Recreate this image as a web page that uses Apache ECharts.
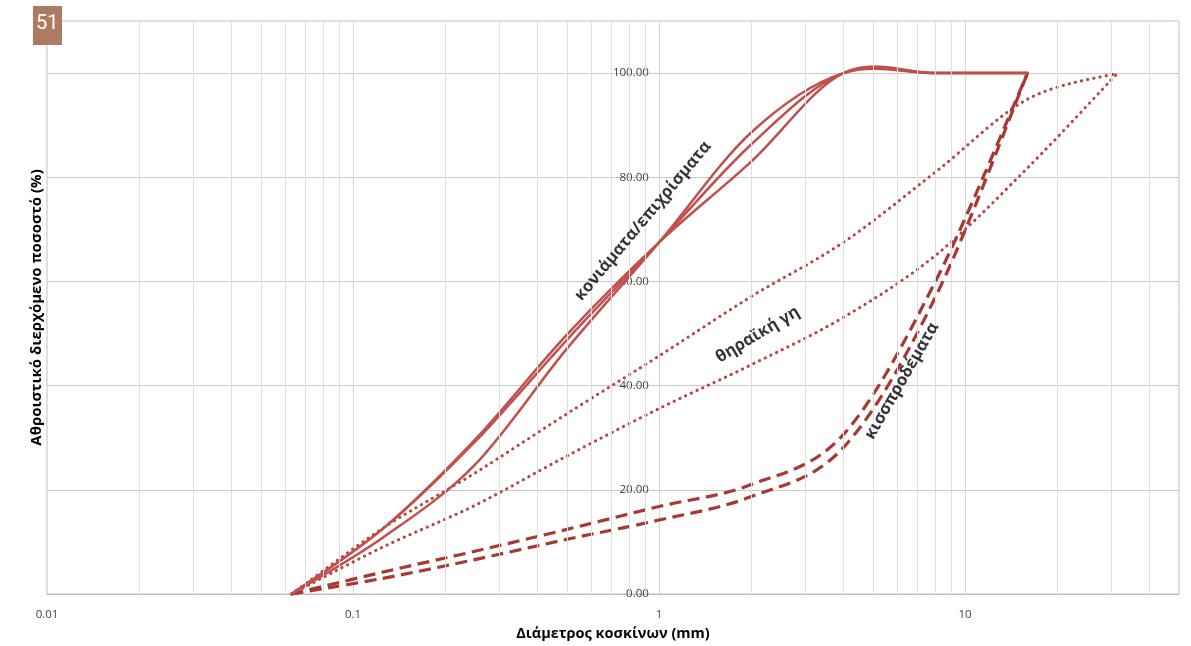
<!DOCTYPE html>
<html>
<head>
<meta charset="utf-8">
<script src="https://cdn.jsdelivr.net/npm/echarts@6/dist/echarts.min.js"></script>
<style>
html,body{margin:0;padding:0;background:#ffffff;}
#chart{width:1191px;height:646px;}
</style>
</head>
<body>
<div id="chart"></div>
<script>
// Sieve sizes (mm)
const sieves = [0.063, 0.125, 0.25, 0.5, 1, 2, 4, 8, 16, 31.5];
// κονιάματα/επιχρίσματα (solid)
const mortarA = [0, 12.5, 29.6, 49.8, 67.5, 83.0, 100, 100, 100];
const mortarB = [0, 12.5, 29.2, 48.8, 67.5, 86.3, 100, 100, 100];
const mortarC = [0, 10.8, 24.8, 47.1, 67.5, 88.6, 100, 100, 100];
// θηραϊκή γη (dotted)
const theraA = [0, 12.6, 23.2, 34.6, 45.7, 57.1, 67.5, 81.0, 95.0, 100];
const theraB = [0, 9.0, 17.0, 26.5, 35.6, 44.0, 53.1, 65.0, 81.8, 100];
// κισσηροδέματα (dashed)
const pumiceA = [0, 4.2, 8.2, 12.4, 16.8, 21.0, 30.6, 60.0, 100];
const pumiceB = [0, 3.0, 6.6, 10.5, 14.2, 18.7, 28.1, 57.0, 100];
// tick labels
const xTickLabels = ['0.01', '0.1', '1', '10'];
const yTicks = [0, 20, 40, 60, 80, 100];
// text labels on the plot (data coordinates)
const annotations = [
  {text: 'κονιάματα/επιχρίσματα', at: [0.886, 71.6], angle: 50, weight: 'bold', size: 16.5},
  {text: 'θηραϊκή γη', at: [2.1, 49.8], angle: 31, weight: 'bold', size: 16.5},
  {text: 'κισσπροδέματα', at: [6.21, 40.9], angle: 60, weight: 'bold', size: 16.5}
];

const chart = echarts.init(document.getElementById('chart'));

function pairs(vals) { return vals.map((v, i) => [sieves[i], v]); }

// minor vertical gridlines at 2..9 × each decade
const minorGrid = [];
[0.01, 0.1, 1, 10].forEach(d => {
  for (let k = 2; k <= 9; k++) {
    const v = +(d * k).toPrecision(4);
    if (v < 50) minorGrid.push(v);
  }
});

const solidStyle = {stroke: '#c0504d', lineWidth: 2.5, lineDash: null, lineCap: 'round'};
const dottedStyle = {stroke: '#b8433f', lineWidth: 3, lineDash: [0.3, 6], lineCap: 'round'};
const dashedStyle = {stroke: '#a83834', lineWidth: 3.2, lineDash: [12, 6.5], lineCap: 'butt'};

// Excel-like smoothed line (Catmull-Rom through the points, in pixel space)
function curveSeries(name, vals, style) {
  const data = pairs(vals);
  return {
    name: name, type: 'custom', coordinateSystem: 'cartesian2d', data: data,
    silent: true, z: 3, animation: false, clip: false,
    encode: {x: 0, y: 1},
    renderItem: function (params, api) {
      if (params.dataIndex !== 0) return null;
      const p = data.map(d => api.coord(d));
      const n = p.length;
      let d = 'M' + p[0][0] + ' ' + p[0][1];
      for (let i = 0; i < n - 1; i++) {
        const p0 = p[Math.max(i - 1, 0)], p1 = p[i], p2 = p[i + 1], p3 = p[Math.min(i + 2, n - 1)];
        const c1x = p1[0] + (p2[0] - p0[0]) / 6, c1y = p1[1] + (p2[1] - p0[1]) / 6;
        const c2x = p2[0] - (p3[0] - p1[0]) / 6, c2y = p2[1] - (p3[1] - p1[1]) / 6;
        d += ' C' + c1x + ' ' + c1y + ' ' + c2x + ' ' + c2y + ' ' + p2[0] + ' ' + p2[1];
      }
      return {
        type: 'path', silent: true,
        shape: {pathData: d},
        style: {fill: 'none', stroke: style.stroke, lineWidth: style.lineWidth, lineDash: style.lineDash, lineCap: style.lineCap, lineJoin: 'round'}
      };
    }
  };
}

const option = {
  animation: false,
  backgroundColor: '#ffffff',
  grid: {left: 47, right: 12, top: 21, bottom: 47, show: true, borderColor: '#dbb7b3', borderWidth: 1, backgroundColor: 'transparent'},
  xAxis: {
    type: 'log', logBase: 10, min: 0.01, max: 50,
    name: 'Διάμετρος κοσκίνων (mm)', nameLocation: 'middle', nameGap: 32,
    nameTextStyle: {fontFamily: 'Open Sans', fontWeight: 'bold', fontSize: 14.5, color: '#000000'},
    axisLine: {show: true, lineStyle: {color: '#bfbfbf', width: 1}},
    axisTick: {show: false},
    axisLabel: {
      color: '#404040', fontSize: 11.5, fontFamily: 'Open Sans', margin: 15,
      showMaxLabel: false,
      formatter: function (v) {
        const s = String(+(+v).toPrecision(6));
        return xTickLabels.indexOf(s) >= 0 ? s : '';
      }
    },
    splitLine: {show: true, showMinLine: false, showMaxLine: false, lineStyle: {color: '#d6d6d6', width: 1}}
  },
  yAxis: [{
    type: 'value', min: 0, max: 110, interval: 20, position: 'left', offset: 0,
    axisLine: {show: false}, axisTick: {show: false},
    axisLabel: {
      color: '#404040', fontSize: 11.5, fontFamily: 'Open Sans', margin: 12, showMaxLabel: false,
      formatter: function (v) { return yTicks.indexOf(v) >= 0 ? v.toFixed(2) : ''; }
    },
    splitLine: {show: true, showMaxLine: false, lineStyle: {color: '#c9c9c9', width: 1}}
  }, {
    type: 'value', min: 0, max: 110, position: 'left', offset: 0,
    name: 'Αθροιστικό διερχόμενο ποσοστό (%)', nameLocation: 'middle', nameGap: 3,
    nameTextStyle: {fontFamily: 'Open Sans', fontWeight: 'bold', fontSize: 15, color: '#000000'},
    axisLine: {show: false}, axisTick: {show: false}, axisLabel: {show: false}, splitLine: {show: false}
  }],
  graphic: [
    {type: 'rect', left: 33, top: 6, shape: {width: 29, height: 39}, style: {fill: '#b07a62'}, z: 100},
    {type: 'text', left: 36, top: 14, style: {text: '51', fill: '#ffffff', font: '20px Roboto'}, z: 101}
  ],
  series: [
    {
      name: 'minorGrid', type: 'line', data: [], silent: true, z: 1, animation: false,
      markLine: {
        silent: true, symbol: ['none', 'none'], label: {show: false}, animation: false,
        lineStyle: {color: '#dedede', width: 1, type: 'solid'},
        emphasis: {disabled: true},
        data: minorGrid.map(v => ({xAxis: v}))
      }
    },
    curveSeries('theraA', theraA, dottedStyle),
    curveSeries('theraB', theraB, dottedStyle),
    curveSeries('pumiceA', pumiceA, dashedStyle),
    curveSeries('pumiceB', pumiceB, dashedStyle),
    curveSeries('mortarA', mortarA, solidStyle),
    curveSeries('mortarB', mortarB, solidStyle),
    curveSeries('mortarC', mortarC, solidStyle),
    {
      name: 'labels', type: 'scatter', symbolSize: 0, silent: true, z: 10, animation: false,
      data: annotations.map(a => ({
        value: a.at,
        label: {
          show: true, position: 'inside', formatter: a.text, rotate: a.angle,
          fontFamily: 'Open Sans', fontWeight: a.weight, fontSize: a.size, color: '#000000'
        }
      }))
    }
  ]
};

chart.setOption(option);
// place the value axis at x = 1 mm, as in the reference
const px1 = chart.convertToPixel({xAxisIndex: 0}, 1);
chart.setOption({yAxis: [{offset: 47 - px1}, {}]});
</script>
</body>
</html>
